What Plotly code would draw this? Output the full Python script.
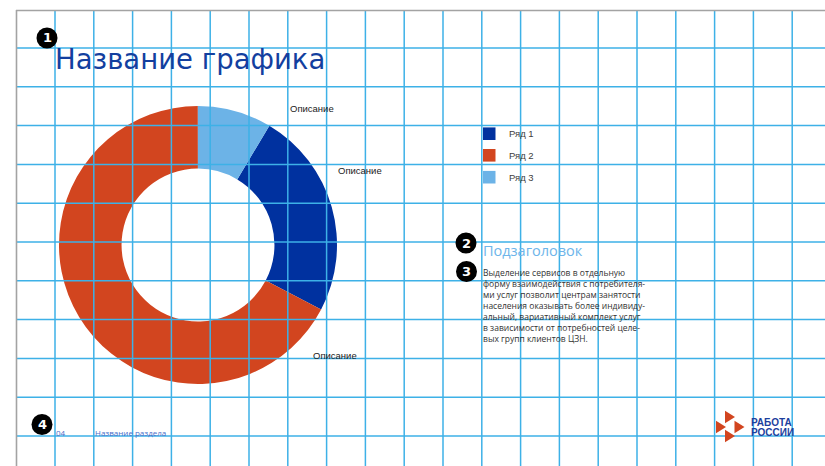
import plotly.graph_objects as go

W, H = 825, 466

# ---- data ----
series = ["Ряд 1", "Ряд 2", "Ряд 3"]
values = [24.1, 67.3, 8.6]
colors = ["#00319f", "#d2451f", "#6cb3e7"]
slice_labels = ["Описание", "Описание", "Описание"]

title_text = "Название графика"
subtitle_text = "Подзаголовок"
body_lines = [
    "Выделение сервисов в отдельную",
    "форму взаимодействия с потребителя-",
    "ми услуг позволит центрам занятости",
    "населения оказывать более индивиду-",
    "альный, вариативный комплект услуг",
    "в зависимости от потребностей целе-",
    "вых групп клиентов ЦЗН.",
]
page_number = "04"
section_name = "Название раздела"
logo_lines = ["РАБОТА", "РОССИИ"]


def px(x):
    return x / W


def py(y):
    return 1 - y / H


# donut geometry (pixels)
cx, cy, r = 198, 245, 139

fig = go.Figure(
    go.Pie(
        labels=series,
        values=values,
        marker=dict(colors=colors, line=dict(width=0)),
        hole=0.55,
        sort=False,
        direction="clockwise",
        rotation=30.9,
        textinfo="none",
        hoverinfo="label+value",
        showlegend=False,
        domain=dict(x=[px(cx - r), px(cx + r)], y=[py(cy + r), py(cy - r)]),
    )
)

shapes = []
annotations = []

# layout grid drawn over the chart
grid_color = "#3db1e7"
step = 38.8
for k in range(20):
    x = 55 + step * k
    shapes.append(dict(type="line", xref="paper", yref="paper", layer="above",
                       x0=px(x), x1=px(x), y0=py(10), y1=py(H),
                       line=dict(color=grid_color, width=1.5)))
for k in range(11):
    y = 48 + step * k
    shapes.append(dict(type="line", xref="paper", yref="paper", layer="above",
                       x0=px(16), x1=1, y0=py(y), y1=py(y),
                       line=dict(color=grid_color, width=1.5)))
# grey frame
shapes.append(dict(type="line", xref="paper", yref="paper", layer="above",
                   x0=px(16), x1=1, y0=py(10.5), y1=py(10.5),
                   line=dict(color="#a3a3a3", width=1.6)))
shapes.append(dict(type="line", xref="paper", yref="paper", layer="above",
                   x0=px(16.5), x1=px(16.5), y0=py(10), y1=0,
                   line=dict(color="#a3a3a3", width=1.6)))

# legend
leg_y = [133.7, 155.3, 177.2]
for name, col, y in zip(series, colors, leg_y):
    shapes.append(dict(type="rect", xref="paper", yref="paper", layer="above",
                       x0=px(483), x1=px(495.5), y0=py(y - 6.3), y1=py(y + 6.3),
                       fillcolor=col, line=dict(width=0)))
    annotations.append(dict(text=name, x=px(507), y=py(y), xref="paper", yref="paper",
                            xanchor="left", yanchor="middle", showarrow=False,
                            font=dict(family="Liberation Sans, Arial", size=9.5, color="#404040")))

# slice descriptions
label_pos = [(288, 109), (336, 170), (311, 355)]
for txt, (x, y) in zip(slice_labels, label_pos):
    annotations.append(dict(text=txt, x=px(x), y=py(y), xref="paper", yref="paper",
                            xanchor="left", yanchor="middle", showarrow=False,
                            font=dict(family="Liberation Sans, Arial", size=9.5, color="#222222")))

# title
annotations.append(dict(text=title_text, x=px(53), y=py(58.5), xref="paper", yref="paper",
                        xanchor="left", yanchor="middle", showarrow=False,
                        font=dict(family="DejaVu Sans", size=27.5, color="#133f9f")))

# subtitle and body
annotations.append(dict(text=subtitle_text, x=px(481), y=py(250.7), xref="paper", yref="paper",
                        xanchor="left", yanchor="middle", showarrow=False,
                        font=dict(family="Open Sans", size=14.5, color="#6db5ea")))
annotations.append(dict(text="<br>".join(body_lines), x=px(481), y=py(305.8),
                        xref="paper", yref="paper", xanchor="left", yanchor="middle",
                        align="left", showarrow=False,
                        font=dict(family="Open Sans", size=8.5, color="#333333")))

# footer
annotations.append(dict(text=page_number, x=px(54), y=py(432.5), xref="paper", yref="paper",
                        xanchor="left", yanchor="middle", showarrow=False,
                        font=dict(family="Open Sans", size=8, color="#4a6cc8")))
annotations.append(dict(text=section_name, x=px(93), y=py(432.5), xref="paper", yref="paper",
                        xanchor="left", yanchor="middle", showarrow=False,
                        font=dict(family="Open Sans", size=8, color="#4a6cc8")))

# logo: four red arrowheads and the wordmark
tri = [(725, 417), (716, 427), (734.5, 427), (725, 436)]
for (x, y) in tri:
    path = "M {},{} L {},{} L {},{} Z".format(px(x), py(y - 6.3), px(x + 10), py(y), px(x), py(y + 6.3))
    shapes.append(dict(type="path", xref="paper", yref="paper", layer="above",
                       path=path, fillcolor="#d2451f", line=dict(width=0)))
for txt, y in zip(logo_lines, [422.3, 432.3]):
    annotations.append(dict(text="<b>" + txt + "</b>", x=px(749), y=py(y), xref="paper", yref="paper",
                            xanchor="left", yanchor="middle", showarrow=False,
                            font=dict(family="Liberation Sans, Arial", size=10, color="#1d3f9e")))

# numbered markers
markers = [("1", 47, 38), ("2", 466, 243), ("3", 466.5, 271.5), ("4", 42, 424.5)]
for num, x, y in markers:
    shapes.append(dict(type="circle", xref="paper", yref="paper", layer="above",
                       x0=px(x - 10.5), x1=px(x + 10.5), y0=py(y + 10.5), y1=py(y - 10.5),
                       fillcolor="#000000", line=dict(width=0)))
    annotations.append(dict(text="<b>" + num + "</b>", x=px(x), y=py(y), xref="paper", yref="paper",
                            xanchor="center", yanchor="middle", showarrow=False,
                            font=dict(family="DejaVu Sans", size=13, color="#ffffff")))

fig.update_layout(
    width=W,
    height=H,
    margin=dict(l=0, r=0, t=0, b=0),
    paper_bgcolor="#ffffff",
    plot_bgcolor="#ffffff",
    shapes=shapes,
    annotations=annotations,
)

fig.write_html("out.html")
